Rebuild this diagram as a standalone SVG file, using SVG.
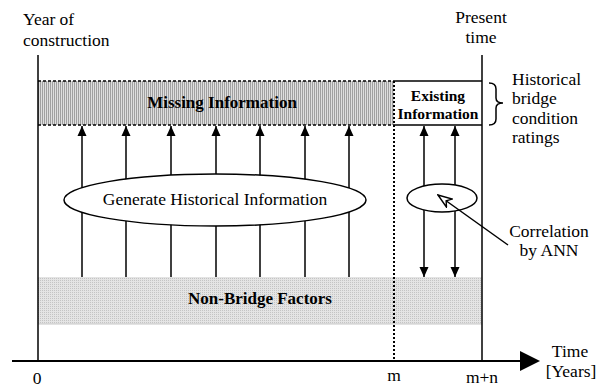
<svg xmlns="http://www.w3.org/2000/svg" width="599" height="392" viewBox="0 0 599 392">
<style>
text{fill:#000;font-size:17.5px}
.b{font-weight:bold;font-size:17px}
.ln{stroke:#000;stroke-width:1.5;fill:none}
.arr{stroke:#000;stroke-width:1.5;fill:none}
</style>
<defs>
<pattern id="hatch" width="2" height="4" patternUnits="userSpaceOnUse">
<rect width="2" height="4" fill="#dedede"/>
<rect width="1" height="4" fill="#a0a0a0"/>
</pattern>
<pattern id="dots" width="2" height="2" patternUnits="userSpaceOnUse">
<rect width="2" height="2" fill="#e4e4e4"/>
<rect width="1" height="1" fill="#c4c4c4"/>
</pattern>
<marker id="ah" viewBox="0 0 10 10" refX="10" refY="5" markerWidth="10" markerHeight="10" orient="auto-start-reverse" markerUnits="userSpaceOnUse">
<path d="M0,0.5 L10,5 L0,9.5 z" fill="#000"/>
</marker>
<marker id="open" viewBox="0 0 16 12" refX="15" refY="6" markerWidth="16" markerHeight="12" orient="auto" markerUnits="userSpaceOnUse">
<path d="M15,6 L1,1 L5,6 L1,11 z" fill="#fff" stroke="#000" stroke-width="1.4" stroke-linejoin="miter"/>
</marker>
</defs>

<g font-family="'Liberation Serif', 'Times New Roman', 'DejaVu Serif', serif">
<g id="missing">
<rect x="38" y="81" width="356" height="44" fill="url(#hatch)"/>
<line x1="38" y1="81" x2="394" y2="81" stroke="#000" stroke-width="1.3" stroke-dasharray="3,2"/>
<line x1="38" y1="125" x2="394" y2="125" stroke="#000" stroke-width="1.3" stroke-dasharray="3,2"/>
<text class="b" x="222" y="108" text-anchor="middle">Missing Information</text>
</g>

<g id="nonbridge">
<rect x="38" y="277" width="444" height="47" fill="url(#dots)"/>
<line x1="38" y1="324" x2="482" y2="324" stroke="#c8c8c8" stroke-width="1"/>
<text class="b" x="260" y="304" text-anchor="middle">Non-Bridge Factors</text>
</g>

<g id="existing">
<rect x="394" y="81" width="88" height="44" fill="#fff"/>
<line x1="394" y1="81" x2="482" y2="81" class="ln"/>
<line x1="394" y1="125" x2="482" y2="125" class="ln"/>
<text class="b" x="438" y="101" text-anchor="middle" style="font-size:15.5px">Existing</text>
<text class="b" x="438" y="119" text-anchor="middle" style="font-size:15.5px">Information</text>
</g>

<g id="connectors">
<line x1="82" y1="277" x2="82" y2="126" class="arr" marker-end="url(#ah)"/>
<line x1="126" y1="277" x2="126" y2="126" class="arr" marker-end="url(#ah)"/>
<line x1="171" y1="277" x2="171" y2="126" class="arr" marker-end="url(#ah)"/>
<line x1="216" y1="277" x2="216" y2="126" class="arr" marker-end="url(#ah)"/>
<line x1="260" y1="277" x2="260" y2="126" class="arr" marker-end="url(#ah)"/>
<line x1="305" y1="277" x2="305" y2="126" class="arr" marker-end="url(#ah)"/>
<line x1="349" y1="277" x2="349" y2="126" class="arr" marker-end="url(#ah)"/>
<line x1="424" y1="126" x2="424" y2="277" class="arr" marker-start="url(#ah)" marker-end="url(#ah)"/>
<line x1="455" y1="126" x2="455" y2="277" class="arr" marker-start="url(#ah)" marker-end="url(#ah)"/>
</g>

<g id="generate">
<ellipse cx="215" cy="200" rx="151" ry="26" fill="#fff" stroke="#000" stroke-width="1.5"/>
<text x="215" y="205" text-anchor="middle">Generate Historical Information</text>
</g>

<g id="ann">
<ellipse cx="442" cy="198" rx="35" ry="14" fill="#fff" stroke="#000" stroke-width="1.5"/>
</g>

<g id="leader">
<line x1="508" y1="245" x2="438" y2="195" stroke="#000" stroke-width="1.5" marker-end="url(#open)"/>
</g>

<g id="frame">
<line x1="38" y1="55" x2="38" y2="361" class="ln"/>
<line x1="482" y1="55" x2="482" y2="361" class="ln"/>
<line x1="394" y1="81" x2="394" y2="361" stroke="#000" stroke-width="2" stroke-dasharray="2,2"/>
<line x1="12" y1="361" x2="521" y2="361" stroke="#000" stroke-width="2.2"/>
<path d="M520,351 L540,361 L520,371 z" fill="#000"/>
<path d="M489,83 Q496,83 496,89 L496,98 Q496,103 503,103 Q496,103 496,108 L496,119 Q496,125 489,125" fill="none" stroke="#000" stroke-width="1.5"/>
</g>

<g id="labels">
<text x="23" y="25">Year of</text>
<text x="23" y="46">construction</text>
<text x="481" y="23" text-anchor="middle">Present</text>
<text x="481" y="43" text-anchor="middle">time</text>
<text x="512" y="85">Historical</text>
<text x="512" y="104">bridge</text>
<text x="512" y="124">condition</text>
<text x="512" y="143">ratings</text>
<text x="549" y="237" text-anchor="middle">Correlation</text>
<text x="549" y="256" text-anchor="middle">by ANN</text>
<text x="37" y="384" text-anchor="middle">0</text>
<text x="394" y="381" text-anchor="middle">m</text>
<text x="482" y="383" text-anchor="middle">m+n</text>
<text x="570" y="357" text-anchor="middle">Time</text>
<text x="571" y="377" text-anchor="middle">[Years]</text>
</g>
</g>
</svg>
